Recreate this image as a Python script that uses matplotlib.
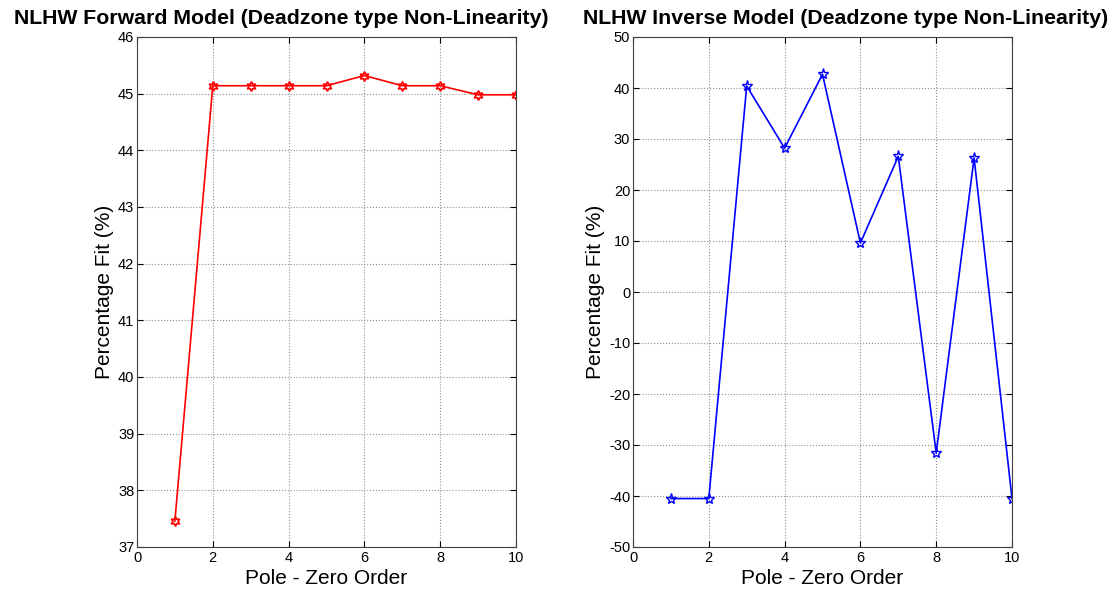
import matplotlib
matplotlib.use('Agg')
import matplotlib.pyplot as plt

plt.rcParams['font.family'] = ['Liberation Sans', 'DejaVu Sans']
plt.rcParams['axes.unicode_minus'] = False

order = [1, 2, 3, 4, 5, 6, 7, 8, 9, 10]
fwd_fit = [37.46, 45.14, 45.14, 45.14, 45.14, 45.32, 45.14, 45.14, 44.98, 44.98]
inv_fit = [-40.5, -40.5, 40.4, 28.2, 42.7, 9.6, 26.6, -31.6, 26.3, -40.5]

fig = plt.figure(figsize=(11.17, 5.91), dpi=100)
W, H = 1117.0, 591.0

def setup(ax, ylim, yticks):
    ax.set_xlim(0, 10)
    ax.set_ylim(*ylim)
    ax.set_xticks(range(0, 11, 2))
    ax.set_yticks(yticks)
    ax.grid(True, linestyle=':', color='#909090', linewidth=0.8)
    ax.tick_params(direction='in', top=True, right=True, labelsize=10.5, length=4, pad=2)
    ax.tick_params(axis='x', pad=3)
    ax.set_xlabel('Pole - Zero Order', fontsize=15, labelpad=3)
    ax.set_ylabel('Percentage Fit (%)', fontsize=15, labelpad=3)
    for s in ax.spines.values():
        s.set_color('#404040')

ax1 = fig.add_axes([137 / W, 44 / H, 379 / W, 510 / H])
ax1.plot(order, fwd_fit, color='red', marker=(6, 1, 0), markersize=7,
         markerfacecolor='none', markeredgewidth=1.2, linewidth=1.2)
setup(ax1, (37, 46), range(37, 47))

ax2 = fig.add_axes([633 / W, 44 / H, 379 / W, 510 / H])
ax2.plot(order, inv_fit, color='blue', marker='*', markersize=8,
         markerfacecolor='none', markeredgewidth=1.0, linewidth=1.2)
setup(ax2, (-50, 50), range(-50, 51, 10))

fig.text(281 / W, 1 - 24 / H, 'NLHW Forward Model (Deadzone type Non-Linearity)',
         ha='center', va='baseline', fontsize=15.3, fontweight='bold')
fig.text(846 / W, 1 - 24 / H, 'NLHW Inverse Model (Deadzone type Non-Linearity)',
         ha='center', va='baseline', fontsize=15.3, fontweight='bold')

fig.savefig('out.png', dpi=100)
